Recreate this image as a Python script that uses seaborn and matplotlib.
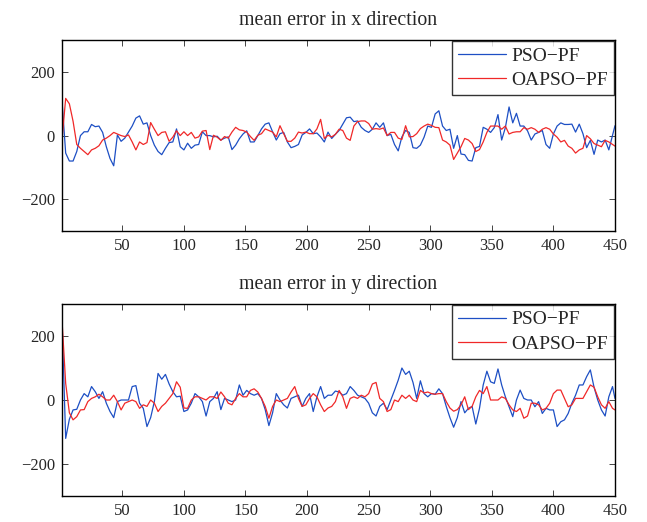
import numpy as np
import pandas as pd
import matplotlib
matplotlib.use('Agg')
import matplotlib.pyplot as plt
import seaborn as sns

# time steps (every 3rd step, plus the last one)
steps = list(range(1, 449, 3)) + [450]

# mean error in x direction
pso_x = [110, -55, -80, -80, -50, 0, 12, 12, 35, 28, 30, 10, -35, -72, -95, 2, -18, -8, 11, 30,
         55, 62, 36, 40, 0, -30, -50, -60, -40, -22, -20, 21, -35, -45, -24, -40, -30, -28,
         12, 0, 0, -4, -2, -14, -8, -4, -44, -30, -10, 5, 15, -20, -20, 0, 21, 36, 40, 12,
         -14, 6, 10, -20, -38, -34, -28, 2, 10, 21, 6, 8, -4, -20, 11, -9, 4, 16,
         36, 56, 58, 44, 46, 26, 16, 10, 20, 40, 26, 40, 0, 4, -28, -48, -4, 16, 10, -38,
         -40, -30, -5, 30, 26, 68, 78, 30, 16, 20, -40, 0, -58, -60, -78, -80, -38, -34,
         26, 20, 10, 25, 66, -14, 25, 90, 40, 70, 30, 30, 15, -14, 5, 10, 16, -28, -40, 5,
         30, 40, 35, 35, 36, 11, 36, 6, -38, -15, -59, -14, -20, -14, -45, 0, 31]
oapso_x = [-14, 117, 100, 45, -28, -40, -50, -60, -45, -40, -32, -14, -8, 0, 10, 5, 0, -3, 2, -20,
           -45, -20, -28, -22, 41, 20, 0, 10, 12, -18, -5, 15, 0, 12, 0, 10, -8, -4,
           14, 16, -44, 1, -5, -15, -3, -8, 11, 26, 18, 16, 11, -3, -15, 1, 6, 21, 16, 11,
           -4, 31, 6, -18, -18, -8, 11, 8, 11, 6, 6, 21, 51, -9, 1, -4, 4, 20,
           16, -8, -15, 30, 44, 46, 46, 38, 20, 22, 20, 24, 0, 10, 10, -8, -12, 31, -4, -3,
           6, 22, 30, 36, 32, 26, 25, -14, -20, -30, -75, -55, -35, -9, -14, -25, -50, -44,
           -20, 10, 30, 30, 30, 20, 30, 5, 10, 12, 12, 25, 20, 25, 20, 10, 20, 25, 20, 5,
           -5, -20, -15, -33, -40, -55, -45, -40, 0, -10, -25, -30, -35, -15, -20, -28, -33]

# mean error in y direction
pso_y = [250, -120, -60, -31, -29, 0, 20, 10, 42, 26, 5, 26, -10, -36, -55, -5, 0, 0, 0, 42,
         45, -10, -26, -83, -55, -5, 83, 65, 80, 50, 26, 10, 12, -36, -31, -10, 20, 10,
         -5, -50, -5, 5, 26, -30, 5, 0, -5, 0, 47, 15, 30, 20, 15, 20, 5, -30, -80, -40,
         20, 0, -15, -25, 5, 10, 15, -20, 5, 20, -36, 10, 42, 5, 15, 15, 28, 25,
         15, 20, 42, 30, 15, 10, 5, -10, -40, -50, -20, -10, -30, 0, 30, 62, 100, 80, 90, 55,
         5, 60, 20, 10, 20, 18, 35, 20, -20, -55, -85, -55, -5, -40, -26, -20, -75, -26,
         47, 90, 57, 52, 97, 47, 10, -21, -52, 0, 31, 5, 0, 0, -21, -5, -42, -26, -31, -31,
         -83, -68, -62, -42, -10, 15, 47, 47, 73, 94, 40, 0, -31, -50, 10, 42, 5]
oapso_y = [250, 52, -40, -62, -52, -31, -30, -5, 5, 10, 18, 10, 0, 0, 15, -5, -31, -10, -5, 0,
           -5, -26, -15, -20, 0, -10, -36, -20, -10, 5, 20, 57, 40, -25, -26, 0, 10, 10,
           5, 0, 10, 10, 5, 25, 10, -10, -15, 5, 20, 10, 10, 30, 35, 25, 5, -20, -57, -20,
           0, -5, 0, 5, 25, 42, 5, -20, -15, 5, 20, 10, -15, -36, -25, -20, -5, 30,
           10, -26, 5, 10, 5, 15, 10, 20, 50, 55, 5, -5, -36, -30, 0, -5, 15, 5, 15, 0,
           -5, 30, 22, 25, 20, 18, 20, 20, -5, -25, -35, -30, -15, 10, -30, -20, 10, 30,
           20, 42, 0, 0, 0, 10, 5, -15, -31, -36, -26, -57, -50, -10, -10, -15, -31, -26, -10, 20,
           31, 31, 5, -21, -15, 5, 5, 5, 26, 47, 40, 10, -15, -26, -5, -26, -31]

titles = ['mean error in x direction', 'mean error in y direction']
labels = ['PSO\u2212PF', 'OAPSO\u2212PF']
colors = ['#1d4fc4', '#f02828']

sns.set_style('ticks')
plt.rcParams['font.family'] = ['Liberation Serif', 'DejaVu Serif']

fig = plt.figure(figsize=(6.47, 5.22), dpi=100)
ax1 = fig.add_axes([0.0958, 0.5575, 0.8547, 0.3655])
ax2 = fig.add_axes([0.0958, 0.0498, 0.8547, 0.3678])

for ax, title, a, b in [(ax1, titles[0], pso_x, oapso_x), (ax2, titles[1], pso_y, oapso_y)]:
    df = pd.DataFrame({
        'step': steps + steps,
        'error': a + b,
        'method': [labels[0]] * len(steps) + [labels[1]] * len(steps),
    })
    sns.lineplot(data=df, x='step', y='error', hue='method', palette=colors,
                 linewidth=0.9, ax=ax, legend=False)
    ax.set_xlim(1, 450)
    ax.set_ylim(-300, 300)
    ax.set_xticks(range(50, 451, 50))
    ax.set_yticks([-200, 0, 200])
    ax.set_yticklabels(['\u2212200', '0', '200'])
    ax.set_xlabel('')
    ax.set_ylabel('')
    ax.set_title(title, fontsize=14.3, pad=11)
    ax.tick_params(direction='in', top=True, right=True, labelsize=12, length=4, width=0.6,
                   pad=5)
    for s in ax.spines.values():
        s.set_linewidth(1.0)
        s.set_color('black')
    handles = [plt.Line2D([], [], color=c, linewidth=0.9) for c in colors]
    leg = ax.legend(handles, labels, loc='upper right', fontsize=14, frameon=True,
                    fancybox=False, borderaxespad=0.05, handlelength=2.45, borderpad=0.3,
                    labelspacing=0.35, handletextpad=0.3)
    leg.get_frame().set_edgecolor('black')
    leg.get_frame().set_linewidth(1.0)

fig.savefig('out.png', dpi=100)
